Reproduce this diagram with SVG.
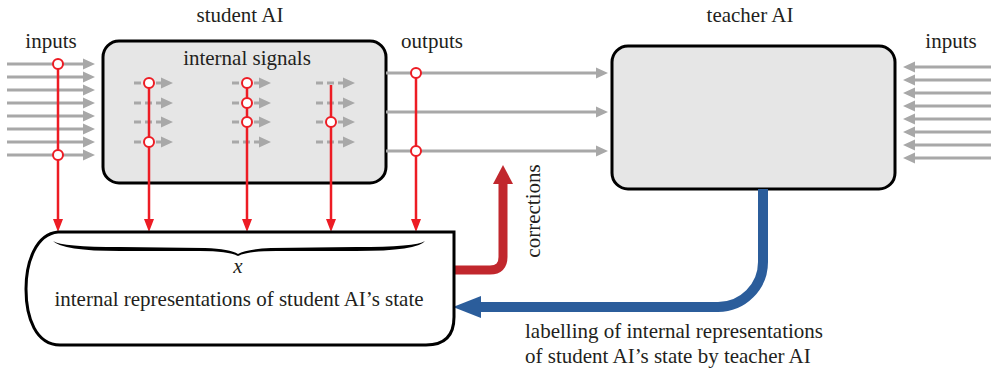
<svg xmlns="http://www.w3.org/2000/svg" width="991" height="371" viewBox="0 0 991 371" font-family="'Liberation Serif', 'Times New Roman', serif">
<defs>
<style>
text{fill:#231f20;font-size:21px}
.box{fill:#e6e6e6;stroke:#000;stroke-width:3}
.g{stroke:#a8a8a8;stroke-width:3;fill:none}
.gd{stroke:#a8a8a8;stroke-width:3;fill:none;stroke-dasharray:7 4}
.ga{fill:#a8a8a8}
.r{stroke:#ed1c24;stroke-width:2.5;fill:none}
.ra{fill:#ed1c24}
.c{fill:#fff;stroke:#ed1c24;stroke-width:2}
</style>
</defs>
<rect width="991" height="371" fill="#fff"/>

<g id="student-ai">
<rect class="box" x="103" y="41" width="283" height="142" rx="16"/>
<text x="240" y="22" text-anchor="middle">student AI</text>
<text x="247" y="65" text-anchor="middle">internal signals</text>
</g>

<g id="teacher-ai">
<rect class="box" x="612" y="46" width="283" height="143" rx="16"/>
<text x="750" y="22" text-anchor="middle">teacher AI</text>
</g>

<g id="connectors">
<g class="g">
<path d="M7 64H84M7 77H84M7 90H84M7 103H84M7 116H84M7 129H84M7 142H84M7 155H84"/>
</g>
<g class="ga">
<path d="M95 64l-12 -5.5v11zM95 77l-12 -5.5v11zM95 90l-12 -5.5v11zM95 103l-12 -5.5v11zM95 116l-12 -5.5v11zM95 129l-12 -5.5v11zM95 142l-12 -5.5v11zM95 155l-12 -5.5v11z"/>
</g>
<g class="gd">
<path d="M134 83H162M134 103H162M134 122H162M134 142H162"/>
<path d="M232 83H260M232 103H260M232 122H260M232 142H260"/>
<path d="M316 83H344M316 103H344M316 122H344M316 142H344"/>
</g>
<g class="ga">
<path d="M173 83l-12 -5.5v11zM173 103l-12 -5.5v11zM173 122l-12 -5.5v11zM173 142l-12 -5.5v11z"/>
<path d="M271 83l-12 -5.5v11zM271 103l-12 -5.5v11zM271 122l-12 -5.5v11zM271 142l-12 -5.5v11z"/>
<path d="M355 83l-12 -5.5v11zM355 103l-12 -5.5v11zM355 122l-12 -5.5v11zM355 142l-12 -5.5v11z"/>
</g>
<g class="g">
<path d="M386 73H597M386 112H597M386 151H597"/>
</g>
<g class="ga">
<path d="M608 73l-12 -5.5v11zM608 112l-12 -5.5v11zM608 151l-12 -5.5v11z"/>
</g>
<g class="g">
<path d="M991 67H914M991 80H914M991 93H914M991 106H914M991 119H914M991 132H914M991 145H914M991 158H914"/>
</g>
<g class="ga">
<path d="M903 67l12 -5.5v11zM903 80l12 -5.5v11zM903 93l12 -5.5v11zM903 106l12 -5.5v11zM903 119l12 -5.5v11zM903 132l12 -5.5v11zM903 145l12 -5.5v11zM903 158l12 -5.5v11z"/>
</g>
<g class="r">
<path d="M58 64V221M149 83V221M247 83V221M331 85V221M416 73V221"/>
</g>
<g class="ra">
<path d="M58 232l-5 -13h10zM149 232l-5 -13h10zM247 232l-5 -13h10zM331 232l-5 -13h10zM416 232l-5 -13h10z"/>
</g>
<g class="c">
<circle cx="58" cy="64" r="5"/><circle cx="58" cy="155" r="5"/>
<circle cx="149" cy="83" r="5"/><circle cx="149" cy="142" r="5"/>
<circle cx="247" cy="83" r="5"/><circle cx="247" cy="103" r="5"/><circle cx="247" cy="122" r="5"/>
<circle cx="331" cy="122" r="5"/>
<circle cx="416" cy="73" r="5"/><circle cx="416" cy="151" r="5"/>
</g>
<path d="M450 270H490Q503 270 503 257V182" fill="none" stroke="#c1272d" stroke-width="9"/>
<path d="M503 165L493 184H513Z" fill="#c1272d"/>
<text transform="translate(540 211) rotate(-90)" text-anchor="middle">corrections</text>
<path d="M763 189V262A45 45 0 0 1 718 307H476" fill="none" stroke="#2b5d9b" stroke-width="10"/>
<path d="M453 307L481 296V318Z" fill="#2b5d9b"/>
<text x="525" y="338">labelling of internal representations</text>
<text x="525" y="363">of student AI’s state by teacher AI</text>
<text x="51" y="48" text-anchor="middle">inputs</text>
<text x="432" y="48" text-anchor="middle">outputs</text>
<text x="951" y="48" text-anchor="middle">inputs</text>
</g>

<g id="internal-representations">
<path d="M454 232H58C36 234 26 262 26 289C26 318 36 345 60 345H426Q454 345 454 317Z" fill="#fff" stroke="#000" stroke-width="3"/>
<path d="M53 241Q62 247 120 247L205 248Q230 249 238 254Q246 249 271 248L356 247Q416 247 425 241Q418 251 356 251L276 251Q248 251 238 256Q228 251 200 251L120 251Q62 251 53 241Z" fill="#000"/>
<text x="238" y="273" text-anchor="middle" font-style="italic">x</text>
<text x="239" y="306" text-anchor="middle" font-size="21.4">internal representations of student AI’s state</text>
</g>
</svg>
